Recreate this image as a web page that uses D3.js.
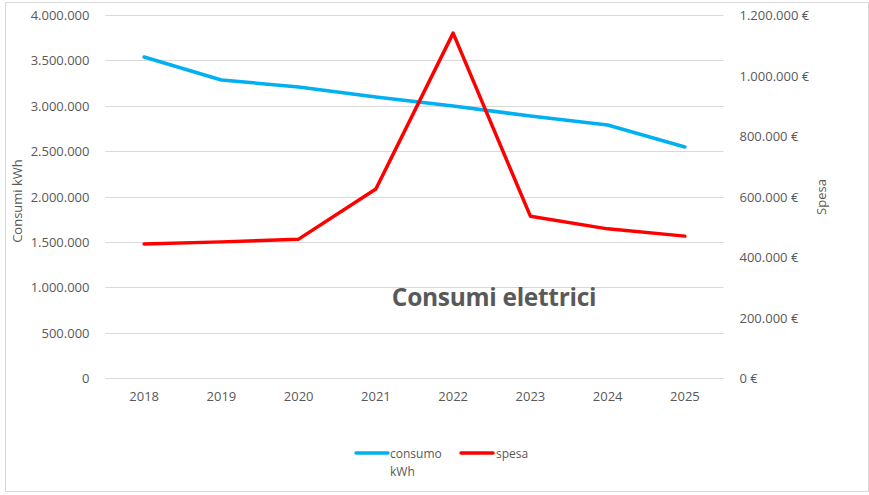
<!DOCTYPE html>
<html>
<head>
<meta charset="utf-8">
<script src="https://cdn.jsdelivr.net/npm/d3@7"></script>
<style>
  body { margin: 0; background: #fff; }
  svg text { font-family: "Open Sans", "Liberation Sans", sans-serif; fill: #595959; }
</style>
</head>
<body>
<div id="chart"></div>
<script>
const years = ['2018', '2019', '2020', '2021', '2022', '2023', '2024', '2025']
const consumo = [3537000, 3284000, 3207000, 3096000, 2997000, 2887000, 2788000, 2545000]
const spesa = [443000, 450000, 459000, 625000, 1140000, 535000, 493000, 469000]
const leftTicks = [0, 500000, 1000000, 1500000, 2000000, 2500000, 3000000, 3500000, 4000000]
const rightTicks = [0, 200000, 400000, 600000, 800000, 1000000, 1200000]

const w = 869, h = 495
const plotLeft = 105.5, plotRight = 723.5, plotTop = 15, plotBottom = 378

const svg = d3.select('#chart').append('svg')
  .attr('width', w).attr('height', h)

// outer frame
svg.append('rect')
  .attr('x', 5.5).attr('y', 2.5)
  .attr('width', w - 6).attr('height', 489)
  .attr('fill', 'none').attr('stroke', '#d9d9d9')

const x = d3.scaleBand().domain(years).range([plotLeft, plotRight])
const yL = d3.scaleLinear().domain([0, 4000000]).range([plotBottom, plotTop])
const yR = d3.scaleLinear().domain([0, 1200000]).range([plotBottom, plotTop])

const fmt = d3.formatLocale({ decimal: ',', thousands: '.', grouping: [3], currency: ['', ' €'] })
const num = fmt.format(',.0f')

// grid
svg.append('g').selectAll('line')
  .data(leftTicks).enter().append('line')
  .attr('x1', plotLeft).attr('x2', plotRight)
  .attr('y1', d => Math.round(yL(d)) + 0.5).attr('y2', d => Math.round(yL(d)) + 0.5)
  .attr('stroke', '#d9d9d9').attr('stroke-width', 1)

// left axis
const axL = svg.append('g')
  .attr('transform', 'translate(' + (plotLeft - 13) + ',0)')
  .call(d3.axisLeft(yL).tickValues(leftTicks).tickFormat(num).tickSize(0))
axL.select('.domain').remove()
axL.selectAll('text').attr('font-size', '13px').attr('dy', '0.35em')

// right axis
const axR = svg.append('g')
  .attr('transform', 'translate(' + (plotRight + 13) + ',0)')
  .call(d3.axisRight(yR).tickValues(rightTicks).tickFormat(d => num(d) + ' €').tickSize(0))
axR.select('.domain').remove()
axR.selectAll('text').attr('font-size', '13px').attr('dy', '0.35em')

// x axis
const axX = svg.append('g')
  .attr('transform', 'translate(0,' + (plotBottom + 10) + ')')
  .call(d3.axisBottom(x).tickSize(0))
axX.select('.domain').remove()
axX.selectAll('text').attr('font-size', '13px').attr('dy', '0.35em').attr('y', 8)

// lines
const cx = d => x(d) + x.bandwidth() / 2
const lineL = d3.line().x((d, i) => cx(years[i])).y(d => yL(d))
const lineR = d3.line().x((d, i) => cx(years[i])).y(d => yR(d))

svg.append('path').datum(consumo)
  .attr('d', lineL).attr('fill', 'none')
  .attr('stroke', '#00b0f0').attr('stroke-width', 3.5)
  .attr('stroke-linejoin', 'round').attr('stroke-linecap', 'round')

svg.append('path').datum(spesa)
  .attr('d', lineR).attr('fill', 'none')
  .attr('stroke', '#ff0000').attr('stroke-width', 3.5)
  .attr('stroke-linejoin', 'round').attr('stroke-linecap', 'round')

// axis titles
svg.append('text')
  .attr('transform', 'translate(22,' + 201 + ') rotate(-90)')
  .attr('text-anchor', 'middle').attr('font-size', '13px')
  .text('Consumi kWh')

svg.append('text')
  .attr('transform', 'translate(826,' + 197 + ') rotate(-90)')
  .attr('text-anchor', 'middle').attr('font-size', '13px')
  .text('Spesa')

// chart title
svg.append('text')
  .attr('x', 494).attr('y', 306)
  .attr('text-anchor', 'middle')
  .attr('font-size', '24.5px').attr('font-weight', 'bold')
  .attr('letter-spacing', '-0.3px')
  .text('Consumi elettrici')

// legend
const legend = svg.append('g')
legend.append('line')
  .attr('x1', 356).attr('x2', 388).attr('y1', 453).attr('y2', 453)
  .attr('stroke', '#00b0f0').attr('stroke-width', 3.5).attr('stroke-linecap', 'round')
legend.append('text').attr('x', 390).attr('y', 458).attr('font-size', '12px').text('consumo')
legend.append('text').attr('x', 390).attr('y', 476).attr('font-size', '12px').text('kWh')
legend.append('line')
  .attr('x1', 461).attr('x2', 493).attr('y1', 453).attr('y2', 453)
  .attr('stroke', '#ff0000').attr('stroke-width', 3.5).attr('stroke-linecap', 'round')
legend.append('text').attr('x', 496).attr('y', 458).attr('font-size', '12px').text('spesa')
</script>
</body>
</html>
